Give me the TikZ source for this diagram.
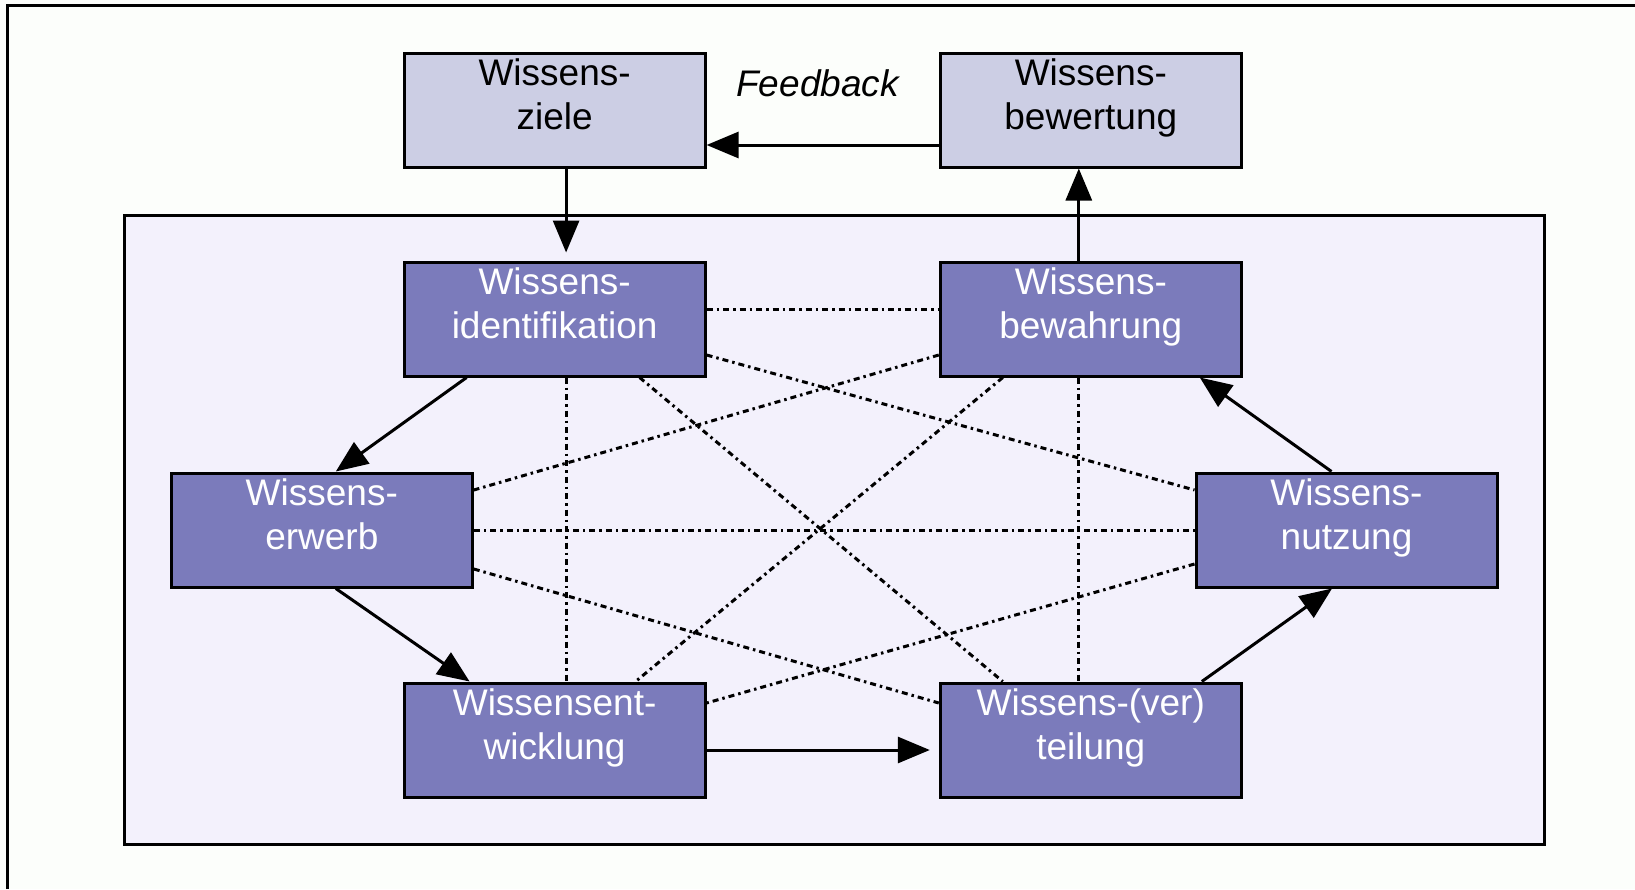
\documentclass[tikz,border=0pt]{standalone}
\usepackage{fontspec}
\setmainfont{Liberation Sans}
\usetikzlibrary{arrows.meta}
\definecolor{bgcol}{RGB}{252,254,251}
\definecolor{innercol}{RGB}{243,241,252}
\definecolor{lightbox}{RGB}{204,206,228}
\definecolor{darkbox}{RGB}{123,123,187}
\begin{document}
\begin{tikzpicture}[x=1pt,y=-1pt,
  box/.style={draw=black, line width=3pt, minimum width=301pt, minimum height=114pt, inner sep=0pt},
  lbox/.style={box, fill=lightbox},
  dbox/.style={box, fill=darkbox},
  txt/.style={anchor=north, align=center, inner sep=0pt, font=\fontsize{37}{44}\selectfont},
  wtxt/.style={txt, text=white},
  flow/.style={line width=3pt, -{Triangle[length=32pt,width=26pt]}},
  link/.style={line width=3pt, dash pattern=on 6pt off 4pt on 2.5pt off 4pt}
]
\useasboundingbox (0,0) rectangle (1635,889);
\fill[bgcol] (0,0) rectangle (1635,889);
\draw[line width=3pt] (7.5,889) -- (7.5,5.5) -- (1635,5.5);
\draw[line width=3pt, fill=innercol] (124.5,215) rectangle (1544.5,844.5);

% boxes
\node[lbox] (zi) at (554.6,110) {};
\node[lbox] (bw) at (1090.8,110) {};
\node[dbox] (id) at (554.6,319) {};
\node[dbox] (bh) at (1090.8,319) {};
\node[dbox] (er) at (321.8,530) {};
\node[dbox] (nu) at (1346.5,530) {};
\node[dbox] (en) at (554.6,740) {};
\node[dbox] (te) at (1090.8,740) {};

% texts
\node[txt]  (zit) at ([yshift=-7pt]zi.north) {Wissens-\\ziele};
\node[txt]  (bwt) at ([yshift=-7pt]bw.north) {Wissens-\\bewertung};
\node[wtxt] (idt) at ([yshift=-7pt]id.north) {Wissens-\\identifikation};
\node[wtxt] (bht) at ([yshift=-7pt]bh.north) {Wissens-\\bewahrung};
\node[wtxt] (ert) at ([yshift=-7pt]er.north) {Wissens-\\erwerb};
\node[wtxt] (nut) at ([yshift=-7pt]nu.north) {Wissens-\\nutzung};
\node[wtxt] (ent) at ([yshift=-7pt]en.north) {Wissensent-\\wicklung};
\node[wtxt] (tet) at ([yshift=-7pt]te.north) {Wissens-(ver)\\teilung};
\node[font=\fontsize{37}{44}\selectfont\itshape, inner sep=0pt] (fb) at (817.5,83) {Feedback};

% dotted links
\draw[link] ([yshift=10pt]id.east) -- ([yshift=10pt]bh.west);
\draw[link] ([xshift=11.5pt]id.south) -- ([xshift=11.5pt]en.north);
\draw[link] ([xshift=-12pt]bh.south) -- ([xshift=-12pt]te.north);
\draw[link] (er.east) -- (nu.west);
\draw[link] ([yshift=-36pt]id.east) -- ([yshift=40pt]nu.west);
\draw[link] ([yshift=-36pt]bh.west) -- ([yshift=40pt]er.east);
\draw[link] ([xshift=85pt]id.south) -- ([xshift=-88pt]te.north);
\draw[link] ([xshift=-88pt]bh.south) -- ([xshift=81pt]en.north);
\draw[link] ([yshift=-39pt]er.east) -- ([yshift=37pt]te.west);
\draw[link] ([yshift=-34pt]nu.west) -- ([yshift=37pt]en.east);

% flows
\draw[flow] ([yshift=-35pt]bw.west) -- ([yshift=-35pt]zi.east);
\draw[flow, shorten >=8pt] ([xshift=11.5pt]zi.south) -- ([xshift=11.5pt]id.north);
\draw[flow] ([xshift=-12pt]bh.north) -- ([xshift=-12pt]bw.south);
\draw[flow] ([xshift=64pt]id.south west) -- ([xshift=14pt]er.north);
\draw[flow] ([xshift=14pt]er.south) -- ([xshift=67pt]en.north west);
\draw[flow, shorten >=9pt] ([yshift=-10pt]en.east) -- ([yshift=-10pt]te.west);
\draw[flow] ([xshift=-41pt]te.north east) -- ([xshift=-14.5pt]nu.south);
\draw[flow] ([xshift=-15pt]nu.north) -- ([xshift=-43pt]bh.south east);
\end{tikzpicture}
\end{document}
